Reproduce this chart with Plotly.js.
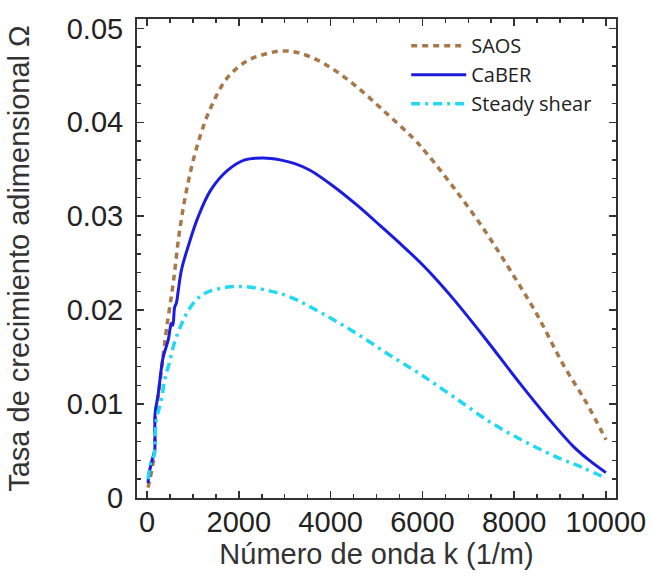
<!DOCTYPE html>
<html>
<head>
<meta charset="utf-8">
<script src="https://cdn.plot.ly/plotly-3.0.1.min.js"></script>
<style>html,body{margin:0;padding:0;background:#fff}#chart{width:652px;height:576px}</style>
</head>
<body>
<div id="chart"></div>
<script>
// Wavenumber k (1/m) and dimensionless growth rate Omega for each model
const kSAOS = [20, 130, 165, 180, 240, 330, 420, 570, 710, 890, 1110, 1390, 1760, 2200, 2600, 2950, 3300, 3840, 4490, 5140, 5800, 6093, 6674, 7327, 7908, 8490, 9070, 9580, 10000];
const omegaSAOS = [0.0011, 0.0037, 0.0052, 0.0086, 0.0108, 0.0143, 0.0179, 0.0229, 0.0285, 0.0335, 0.0378, 0.0416, 0.0448, 0.0466, 0.0473, 0.0476, 0.0474, 0.0463, 0.0441, 0.0413, 0.0383, 0.0367, 0.0331, 0.0287, 0.0243, 0.0196, 0.0142, 0.0101, 0.0062];

const kCaBER = [20, 60, 130, 165, 175, 240, 350, 460, 500, 530, 560, 600, 640, 680, 750, 890, 1110, 1390, 1760, 2130, 2530, 2900, 3220, 3550, 4060, 4570, 5080, 5580, 5948, 6300, 6674, 7400, 8126, 8708, 9288, 9640, 10000];
const omegaCaBER = [0.0016, 0.0030, 0.0044, 0.0050, 0.0090, 0.0110, 0.0150, 0.0168, 0.0180, 0.0186, 0.0184, 0.0203, 0.0208, 0.0221, 0.0243, 0.0267, 0.0299, 0.0328, 0.0349, 0.0360, 0.0362, 0.0360, 0.0356, 0.0349, 0.0332, 0.0312, 0.0290, 0.0268, 0.0251, 0.0233, 0.0212, 0.0168, 0.0122, 0.0087, 0.0055, 0.0040, 0.0027];

const kSteady = [20, 95, 150, 200, 310, 385, 490, 600, 750, 890, 1075, 1260, 1690, 2130, 2710, 3120, 3840, 4570, 5290, 5948, 6674, 7473, 8272, 9000, 9510, 10000];
const omegaSteady = [0.0020, 0.0040, 0.0045, 0.0083, 0.0104, 0.0126, 0.0145, 0.0166, 0.0185, 0.0199, 0.0211, 0.0218, 0.0224, 0.0225, 0.0220, 0.0214, 0.0196, 0.0175, 0.0152, 0.0132, 0.0108, 0.0081, 0.0059, 0.0042, 0.0032, 0.0021];

const seriesNames = ['SAOS', 'CaBER', 'Steady shear'];
const xTickVals = [0, 2000, 4000, 6000, 8000, 10000];
const xTickText = ['0', '2000', '4000', '6000', '8000', '10000'];
const yTickVals = [0, 0.01, 0.02, 0.03, 0.04, 0.05];
const yTickText = ['0', '0.01', '0.02', '0.03', '0.04', '0.05'];

const traces = [
  {x: kSAOS, y: omegaSAOS, name: seriesNames[0], type: 'scatter', mode: 'lines',
   line: {color: '#a8784a', width: 3.5, dash: '6px,5px', shape: 'spline', smoothing: 1}},
  {x: kCaBER, y: omegaCaBER, name: seriesNames[1], type: 'scatter', mode: 'lines',
   line: {color: '#1c1ce0', width: 3, shape: 'spline', smoothing: 1}},
  {x: kSteady, y: omegaSteady, name: seriesNames[2], type: 'scatter', mode: 'lines',
   line: {color: '#22d8f2', width: 3.5, dash: '9px,5px,3px,5px', shape: 'spline', smoothing: 1}}
];

const axisCommon = {
  showline: true, linecolor: '#333', linewidth: 2, mirror: 'allticks',
  ticks: 'inside', ticklen: 7, tickwidth: 1.5, tickcolor: '#333',
  showgrid: false, zeroline: false,
  tickfont: {family: 'Liberation Sans, Arial, sans-serif', size: 29, color: '#222'}
};

const layout = {
  width: 652, height: 576,
  margin: {l: 137, r: 36, t: 19, b: 78},
  paper_bgcolor: '#fff', plot_bgcolor: '#fff',
  showlegend: true,
  legend: {x: 0.562, y: 0.985, xanchor: 'left', yanchor: 'top', bgcolor: 'rgba(0,0,0,0)',
           font: {family: 'Open Sans, sans-serif', size: 20, color: '#222'}, itemwidth: 55},
  xaxis: Object.assign({}, axisCommon, {
    range: [-220, 10220], tickmode: 'array', tickvals: xTickVals, ticktext: xTickText,
    ticklabelstandoff: -3,
    minor: {dtick: 500, ticks: 'inside', ticklen: 4, tickwidth: 1.5, tickcolor: '#333'},
    title: {text: 'Número de onda k (1/m)', standoff: 0,
            font: {family: 'Liberation Sans, Arial, sans-serif', size: 29, color: '#333'}}
  }),
  yaxis: Object.assign({}, axisCommon, {
    range: [0, 0.051], tickmode: 'array', tickvals: yTickVals, ticktext: yTickText,
    ticklabelstandoff: 6,
    minor: {dtick: 0.002, ticks: 'inside', ticklen: 4, tickwidth: 1.5, tickcolor: '#333'},
    title: {text: 'Tasa de crecimiento adimensional Ω', standoff: 29,
            font: {family: 'Liberation Sans, Arial, sans-serif', size: 29, color: '#333'}}
  })
};

Plotly.newPlot('chart', traces, layout, {displayModeBar: false, staticPlot: true});
</script>
</body>
</html>
